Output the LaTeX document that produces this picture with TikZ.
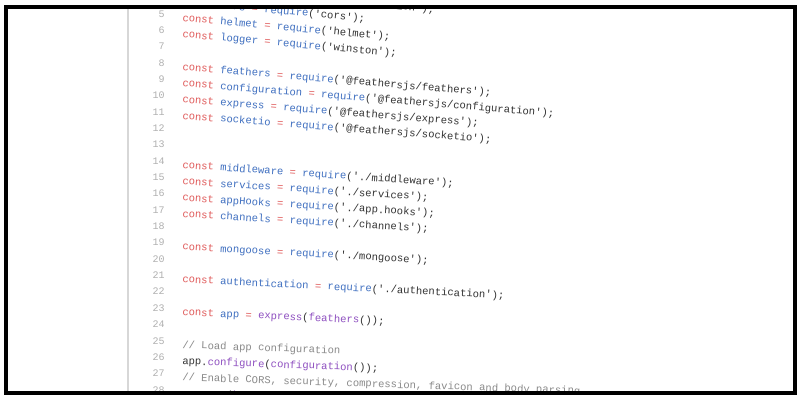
\documentclass[tikz,border=0pt]{standalone}
\usepackage{fontspec}
\setmonofont{Liberation Mono}
\definecolor{kw}{HTML}{E05A5A}
\definecolor{vr}{HTML}{3F6FC0}
\definecolor{st}{HTML}{333333}
\definecolor{fn}{HTML}{8E4FC0}
\definecolor{cm}{HTML}{8A8A8A}
\definecolor{ln}{HTML}{B0B0B0}
\newcommand{\K}[1]{\textcolor{kw}{#1}}
\newcommand{\V}[1]{\textcolor{vr}{#1}}
\newcommand{\Sx}[1]{\textcolor{st}{#1}}
\newcommand{\F}[1]{\textcolor{fn}{#1}}
\newcommand{\Cm}[1]{\textcolor{cm}{#1}}
\newcommand{\Req}[2]{\K{const} \V{#1} \K{=} \V{require}\Sx{(}\Sx{'#2'}\Sx{);}}
\begin{document}
\begin{tikzpicture}[x=0.75pt,y=-0.75pt,
  codeline/.style={anchor=base west,inner sep=0pt,font=\ttfamily\fontsize{7.9}{9}\selectfont},
  numlabel/.style={anchor=base east,inner sep=0pt,text=ln,font=\ttfamily\fontsize{7.5}{9}\selectfont},
  frame/.style={draw=black,line width=2.4pt}]
\useasboundingbox (0,0) rectangle (800,400);
\fill[white] (0,0) rectangle (800,400);
\begin{scope}
\clip (6,7) rectangle (795,393);
\draw[ln!50,line width=0.8pt] (128,0) -- (128,400);
% line numbers
\foreach \n in {3,...,28}{
  \node[numlabel] (n\n) at (165,{17+(\n-5)*16.35}) {\n};
}
% code lines
\newcommand{\CL}[2]{%
  \node[codeline,rotate={-(4.8-(#1-8)*0.15)}] (c#1) at (182,{21+(#1-5)*16.35}) {#2};}
\CL{3}{\Req{compress}{compression}}
\CL{4}{\Req{cors}{cors}}
\CL{5}{\Req{helmet}{helmet}}
\CL{6}{\Req{logger}{winston}}
\CL{8}{\Req{feathers}{@feathersjs/feathers}}
\CL{9}{\Req{configuration}{@feathersjs/configuration}}
\CL{10}{\Req{express}{@feathersjs/express}}
\CL{11}{\Req{socketio}{@feathersjs/socketio}}
\CL{14}{\Req{middleware}{./middleware}}
\CL{15}{\Req{services}{./services}}
\CL{16}{\Req{appHooks}{./app.hooks}}
\CL{17}{\Req{channels}{./channels}}
\CL{19}{\Req{mongoose}{./mongoose}}
\CL{21}{\Req{authentication}{./authentication}}
\CL{23}{\K{const} \V{app} \K{=} \F{express}\Sx{(}\F{feathers}\Sx{());}}
\CL{25}{\Cm{// Load app configuration}}
\CL{26}{\Sx{app.}\F{configure}\Sx{(}\F{configuration}\Sx{());}}
\CL{27}{\Cm{// Enable CORS, security, compression, favicon and body parsing}}
\CL{28}{\Sx{app.}\F{use}\Sx{(}\F{helmet}\Sx{());}}
\end{scope}
\draw[frame] (6,7) rectangle (795,393);
\end{tikzpicture}
\end{document}
